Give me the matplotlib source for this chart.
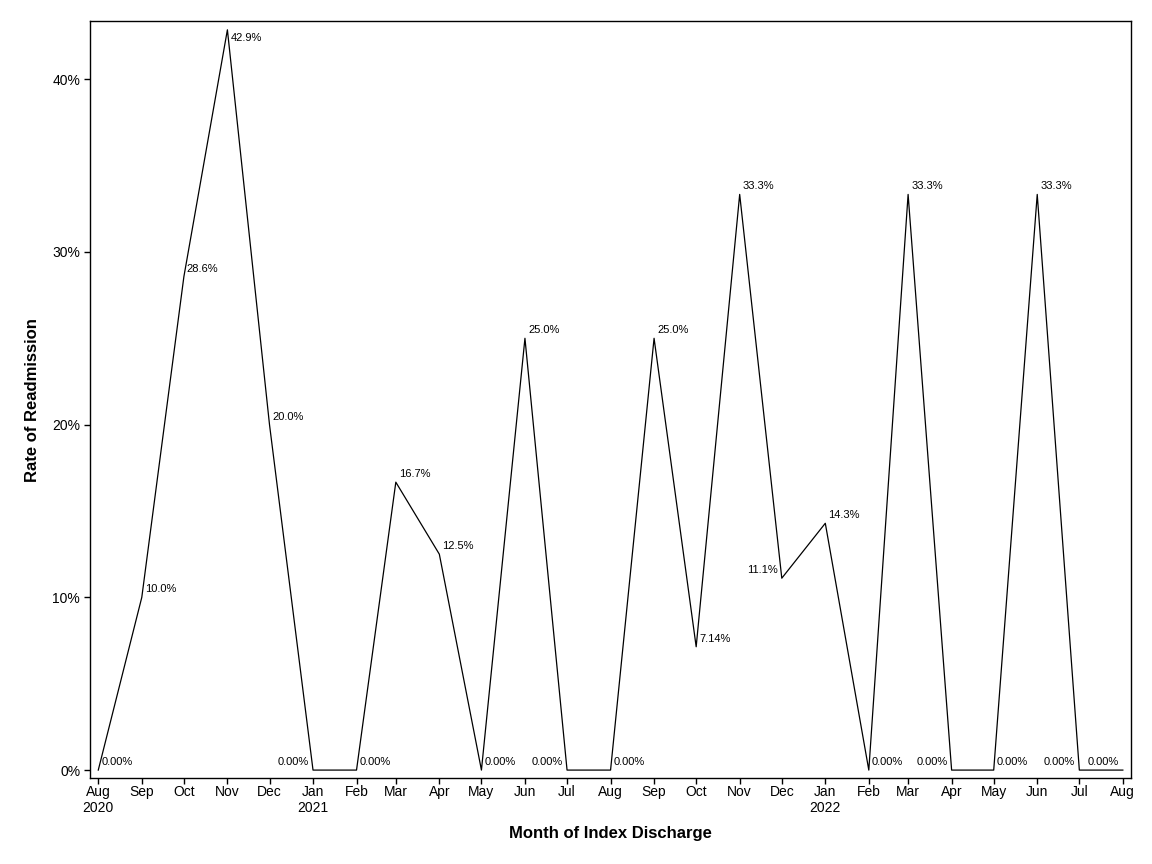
import matplotlib
matplotlib.use("Agg")
import matplotlib.pyplot as plt
import datetime as dt

plt.rcParams['font.family'] = ['Liberation Sans', 'DejaVu Sans']

# monthly readmission rate (%), Aug 2020 .. Aug 2022
months = [dt.date(2020 + (7 + i) // 12, (7 + i) % 12 + 1, 1) for i in range(25)]
rates = [0.0, 10.0, 28.57, 42.86, 20.0, 0.0, 0.0, 16.67, 12.5, 0.0, 25.0, 0.0, 0.0,
         25.0, 7.14, 33.33, 11.11, 14.29, 0.0, 33.33, 0.0, 0.0, 33.33, 0.0, 0.0]
# where each point label sits: ur = upper right, ul = upper left, lr = lower right
label_pos = ['ur', 'ur', 'ur', 'lr', 'ur', 'ul', 'ur', 'ur', 'ur', 'ur', 'ur', 'ul', 'ur',
             'ur', 'ur', 'ur', 'ul', 'ur', 'ur', 'ur', 'ul', 'ur', 'ur', 'ul', 'ul']


def fmt(v):
    return "%.2f%%" % v if v < 10 else "%.1f%%" % v


fig = plt.figure(figsize=(11.52, 8.64), dpi=100)
ax = fig.add_axes([0.078, 0.0995, 0.904, 0.876])
ax.plot(months, rates, color='black', lw=0.9)

for d, v, p in zip(months, rates, label_pos):
    if p == 'ur':
        off, ha, va = (3, 3), 'left', 'bottom'
    elif p == 'ul':
        off, ha, va = (-4, 3), 'right', 'bottom'
    else:
        off, ha, va = (3, -3), 'left', 'top'
    ax.annotate(fmt(v), (d, v), xytext=off, textcoords='offset pixels',
                ha=ha, va=va, fontsize=8)

ax.set_xlim(dt.date(2020, 7, 26), dt.date(2022, 8, 7))
ax.set_ylim(-0.46, 43.36)
ax.set_xticks(months)
xlabels = []
for d in months:
    s = d.strftime('%b')
    if d == months[0] or (d.month == 1):
        s += "\n%d" % d.year
    xlabels.append(s)
ax.set_xticklabels(xlabels, fontsize=10)
ax.set_yticks([0, 10, 20, 30, 40])
ax.set_yticklabels(["0%", "10%", "20%", "30%", "40%"], fontsize=10)
ax.tick_params(axis='x', direction='out', length=4, width=1, pad=1)
ax.tick_params(axis='y', direction='out', length=4.5, width=1, pad=2.5)
for s in ax.spines.values():
    s.set_linewidth(1)

ax.set_xlabel("Month of Index Discharge", fontsize=12, fontweight='bold', labelpad=8)
ax.set_ylabel("Rate of Readmission", fontsize=12, fontweight='bold', labelpad=8.5)

fig.savefig("out.png")
